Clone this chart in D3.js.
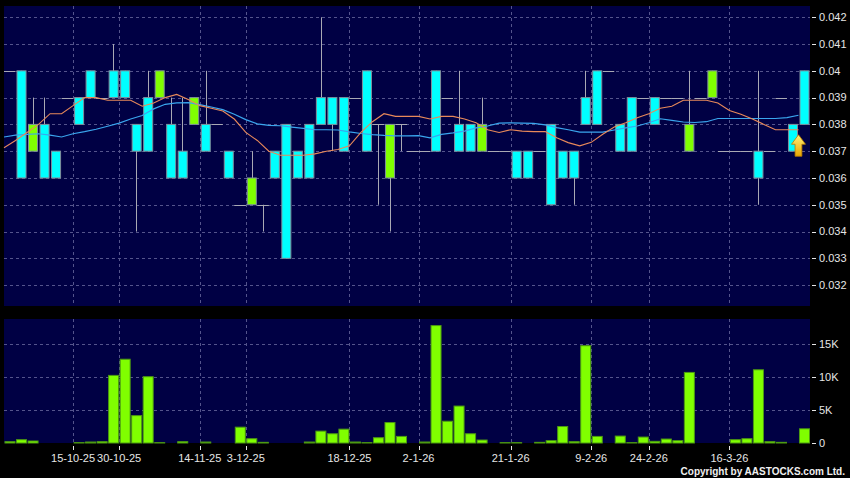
<!DOCTYPE html>
<html>
<head>
<meta charset="utf-8">
<script src="https://cdn.jsdelivr.net/npm/d3@7"></script>
<style>
  body { margin: 0; background: #000; }
  svg { display: block; }
  text { font-family: "Liberation Sans", Arial, sans-serif; }
</style>
</head>
<body>
<div id="container"></div>
<script>
var width = 850, height = 478;

// daily candles, oldest first (null high/low = body only)
const open  = [0.040,0.036,0.038,0.036,0.036,0.039,0.038,0.039,0.039,0.039,
               0.039,0.037,0.037,0.040,0.036,0.036,0.039,0.037,0.038,0.036,
               0.035,0.036,0.035,0.036,0.033,0.036,0.036,0.038,0.038,0.037,
               0.039,0.037,0.038,0.038,0.038,0.037,0.037,0.037,0.039,0.037,
               0.037,0.038,0.037,0.037,0.036,0.036,0.037,0.035,0.036,0.036,
               0.038,0.038,0.040,0.037,0.037,0.039,0.038,0.039,0.039,0.038,
               0.039,0.040,0.037,0.037,0.037,0.036,0.037,0.039,0.037,0.038];
const close = [0.040,0.040,0.037,0.038,0.037,0.039,0.039,0.040,0.039,0.040,
               0.040,0.038,0.039,0.039,0.038,0.037,0.038,0.038,0.038,0.037,
               0.035,0.035,0.035,0.037,0.038,0.037,0.038,0.039,0.039,0.039,
               0.039,0.040,0.038,0.036,0.038,0.037,0.037,0.040,0.039,0.038,
               0.038,0.037,0.037,0.037,0.037,0.037,0.037,0.038,0.037,0.037,
               0.039,0.040,0.040,0.038,0.039,0.039,0.039,0.039,0.039,0.037,
               0.039,0.039,0.037,0.037,0.037,0.037,0.037,0.039,0.038,0.040];
const high  = [null,null,0.039,0.039,null,null,null,null,null,0.041,
               null,null,0.040,null,0.039,0.039,null,0.040,null,null,
               null,0.037,null,null,null,null,null,0.042,null,null,
               null,null,null,null,null,null,null,null,null,0.040,
               null,0.039,null,null,null,null,null,null,null,null,
               0.040,null,null,null,null,null,null,null,null,0.040,
               null,null,null,null,null,0.040,null,null,null,null];
const low   = [null,null,null,null,null,null,null,null,null,null,
               null,0.034,null,null,null,null,null,null,null,null,
               null,null,0.034,null,null,null,null,null,0.037,null,
               null,null,0.035,0.034,0.037,null,null,null,null,null,
               null,null,null,null,null,null,null,null,null,0.035,
               null,null,null,null,null,null,null,null,null,null,
               null,null,null,null,null,0.035,null,null,null,null];
const volume = [200,500,300,0,0,0,50,150,200,10250,
                12700,4150,10050,50,0,200,0,150,0,0,
                2400,650,100,0,0,0,150,1800,1400,2100,
                150,50,800,3100,1000,0,150,17800,3300,5600,
                1400,450,0,50,50,0,100,350,2500,200,
                14750,1000,0,1050,50,900,250,600,350,10700,
                0,0,0,500,650,11100,200,100,0,2150];

// moving averages read at day boundaries (first value = left edge)
const ma10 = [0.03713,0.0374,0.0377,0.0380,0.0384,0.0384,0.0387,0.0390,0.0390,0.0389,
              0.0389,0.0389,0.03868,0.0388,0.0390,0.03912,0.03893,0.0387,0.0386,0.0385,
              0.0382,0.0377,0.0374,0.0370,0.03685,0.03685,0.03685,0.0369,0.0370,0.03706,
              0.0372,0.0377,0.0381,0.0384,0.0383,0.0383,0.0383,0.0382,0.0383,0.0383,
              0.0382,0.03806,0.0378,0.0377,0.0378,0.03775,0.03773,0.03773,0.0375,0.03732,
              0.0372,0.03733,0.03763,0.0379,0.03806,0.03825,0.0384,0.0386,0.03868,0.0389,
              0.0389,0.0389,0.0388,0.03852,0.03838,0.0382,0.0380,0.0378,0.0378,0.0378];
const ma20 = [0.03753,0.0376,0.03763,0.03765,0.0376,0.03753,0.03765,0.03773,0.03782,0.03793,
              0.03805,0.0382,0.03833,0.03858,0.03875,0.0388,0.03881,0.03874,0.03865,0.03855,
              0.03838,0.03818,0.03802,0.03796,0.03795,0.0379,0.03785,0.0378,0.0378,0.03779,
              0.03772,0.03766,0.03762,0.03759,0.03757,0.03757,0.03758,0.0375,0.03763,0.03768,
              0.03775,0.03787,0.03794,0.03805,0.03806,0.03805,0.03804,0.03798,0.03788,0.0378,
              0.03771,0.03771,0.03771,0.03779,0.03787,0.03794,0.03806,0.03821,0.03815,0.03809,
              0.03807,0.0381,0.03822,0.03822,0.03822,0.03822,0.03822,0.03822,0.03825,0.03834];

const dateLabels = ["15-10-25","30-10-25","14-11-25","3-12-25","18-12-25","2-1-26",
                    "21-1-26","9-2-26","24-2-26","16-3-26"];
const dateIndex  = [6,10,17,21,30,36,44,51,56,63];
const priceTicks = [0.032,0.033,0.034,0.035,0.036,0.037,0.038,0.039,0.040,0.041,0.042];
const volTicks   = [0,5000,10000,15000];

const left = 4, right = 810;
const pTop = 6, pBottom = 306, vTop = 319, vBottom = 443;

const days = d3.range(open.length);
const x = d3.scaleBand().domain(days).range([left, right]).padding(0);
const xb = d3.scaleLinear().domain([0, open.length]).range([left, right]);
const y = d3.scaleLinear().domain([0.03122, 0.04242]).range([pBottom, pTop]);
const yv = d3.scaleLinear().domain([0, 18800]).range([vBottom, vTop]);
const bw = x.bandwidth();

const gridColor = "#54548c", textColor = "#e6e6e6", wickColor = "#a9a9b4";

const svg = d3.select("div#container").append("svg")
    .attr("width", width)
    .attr("height", height)
    .attr("viewBox", [0, 0, width, height]);

svg.append("rect").attr("width", width).attr("height", height).attr("fill", "#000");

// panels
svg.append("rect").attr("x", left).attr("y", pTop)
    .attr("width", right - left).attr("height", pBottom - pTop).attr("fill", "#000044");
svg.append("rect").attr("x", left).attr("y", vTop)
    .attr("width", right - left).attr("height", vBottom - vTop).attr("fill", "#000044");

// grids
const grid = svg.append("g")
    .attr("stroke", gridColor)
    .attr("stroke-dasharray", "3,3")
    .attr("shape-rendering", "crispEdges");

grid.selectAll(".hp").data(priceTicks).join("line")
    .attr("x1", left).attr("x2", right)
    .attr("y1", d => Math.round(y(d)) + 0.5).attr("y2", d => Math.round(y(d)) + 0.5);
grid.selectAll(".hv").data(volTicks.slice(1)).join("line")
    .attr("x1", left).attr("x2", right)
    .attr("y1", d => Math.round(yv(d)) + 0.5).attr("y2", d => Math.round(yv(d)) + 0.5);
grid.selectAll(".vp").data(dateIndex).join("line")
    .attr("x1", d => Math.round(x(d)) + 0.5).attr("x2", d => Math.round(x(d)) + 0.5)
    .attr("y1", pTop).attr("y2", pBottom);
grid.selectAll(".vv").data(dateIndex).join("line")
    .attr("x1", d => Math.round(x(d)) + 0.5).attr("x2", d => Math.round(x(d)) + 0.5)
    .attr("y1", vTop).attr("y2", vBottom);

// candles
const hi = i => high[i] != null ? high[i] : Math.max(open[i], close[i]);
const lo = i => low[i] != null ? low[i] : Math.min(open[i], close[i]);
const cx = i => Math.round(x(i) + bw / 2) + 0.5;

const candles = svg.append("g");

candles.selectAll(".wick")
    .data(days.filter(i => hi(i) > lo(i)))
    .join("line")
    .attr("x1", cx).attr("x2", cx)
    .attr("y1", i => y(hi(i))).attr("y2", i => y(lo(i)))
    .attr("stroke", wickColor);

candles.selectAll(".doji")
    .data(days.filter(i => open[i] == close[i]))
    .join("line")
    .attr("x1", i => x(i)).attr("x2", i => x(i) + bw)
    .attr("y1", i => Math.round(y(close[i])) + 0.5).attr("y2", i => Math.round(y(close[i])) + 0.5)
    .attr("stroke", wickColor);

candles.selectAll(".body")
    .data(days.filter(i => open[i] != close[i]))
    .join("rect")
    .attr("x", i => x(i) + 1.5)
    .attr("width", bw - 2.5)
    .attr("y", i => y(Math.max(open[i], close[i])))
    .attr("height", i => Math.abs(y(open[i]) - y(close[i])))
    .attr("fill", i => close[i] > open[i] ? "#00ffff" : "#80ff00")
    .attr("stroke", "#7f8f9c")
    .attr("stroke-width", 1);

// moving averages
const maLine = d3.line().x((d, k) => xb(k)).y(d => y(d));

svg.append("path").datum(ma20)
    .attr("d", maLine)
    .attr("fill", "none")
    .attr("stroke", "#3aa6ee")
    .attr("stroke-width", 1.2);

svg.append("path").datum(ma10)
    .attr("d", maLine)
    .attr("fill", "none")
    .attr("stroke", "#e8895a")
    .attr("stroke-width", 1.1);

// signal arrow under the last average point
const defs = svg.append("defs");
const grad = defs.append("linearGradient").attr("id", "arrowFill")
    .attr("x1", 0).attr("y1", 0).attr("x2", 0).attr("y2", 1);
grad.append("stop").attr("offset", "0%").attr("stop-color", "#fff27a");
grad.append("stop").attr("offset", "100%").attr("stop-color", "#e9a400");

const ax = xb(ma10.length - 1), ay = y(ma10[ma10.length - 1]) + 5;
svg.append("path")
    .attr("transform", "translate(" + ax + "," + ay + ")")
    .attr("d", "M0,0 L7,9.5 L3.4,9.5 L3.4,21.5 L-3.4,21.5 L-3.4,9.5 L-7,9.5 Z")
    .attr("fill", "url(#arrowFill)")
    .attr("stroke", "#b77a00")
    .attr("stroke-width", 0.8);

// volume bars
svg.append("g").selectAll("rect")
    .data(days.filter(i => volume[i] > 0))
    .join("rect")
    .attr("x", i => x(i) + 1)
    .attr("width", bw - 1.5)
    .attr("y", i => yv(volume[i]))
    .attr("height", i => yv(0) - yv(volume[i]))
    .attr("fill", "#80ff00")
    .attr("stroke", "#4d9a12")
    .attr("stroke-width", 1);

// right axes
const pAxis = svg.append("g");
pAxis.selectAll("line").data(priceTicks).join("line")
    .attr("x1", right + 2).attr("x2", right + 6)
    .attr("y1", d => Math.round(y(d)) + 0.5).attr("y2", d => Math.round(y(d)) + 0.5)
    .attr("stroke", textColor);
pAxis.selectAll("text").data(priceTicks).join("text")
    .attr("x", right + 9).attr("y", d => y(d)).attr("dy", "0.35em")
    .attr("fill", textColor).attr("font-size", 11)
    .text(d => String(+d.toFixed(3)));

const vAxis = svg.append("g");
vAxis.selectAll("line").data(volTicks).join("line")
    .attr("x1", right + 2).attr("x2", right + 6)
    .attr("y1", d => Math.round(yv(d)) + 0.5).attr("y2", d => Math.round(yv(d)) + 0.5)
    .attr("stroke", textColor);
vAxis.selectAll("text").data(volTicks).join("text")
    .attr("x", right + 9).attr("y", d => yv(d)).attr("dy", "0.35em")
    .attr("fill", textColor).attr("font-size", 11)
    .text(d => d == 0 ? "0" : (d / 1000) + "K");

// date axis
const dAxis = svg.append("g");
dAxis.selectAll("line").data(dateIndex).join("line")
    .attr("x1", d => Math.round(x(d)) + 0.5).attr("x2", d => Math.round(x(d)) + 0.5)
    .attr("y1", vBottom + 3).attr("y2", vBottom + 7)
    .attr("stroke", textColor);
dAxis.selectAll("text").data(dateIndex).join("text")
    .attr("x", d => x(d)).attr("y", 462)
    .attr("text-anchor", "middle")
    .attr("fill", textColor).attr("font-size", 11)
    .text((d, k) => dateLabels[k]);

svg.append("text")
    .attr("x", 845).attr("y", 475)
    .attr("text-anchor", "end")
    .attr("fill", "#f0f0f0")
    .attr("font-size", 10)
    .attr("font-weight", "bold")
    .text("Copyright by AASTOCKS.com Ltd.");
</script>
</body>
</html>
